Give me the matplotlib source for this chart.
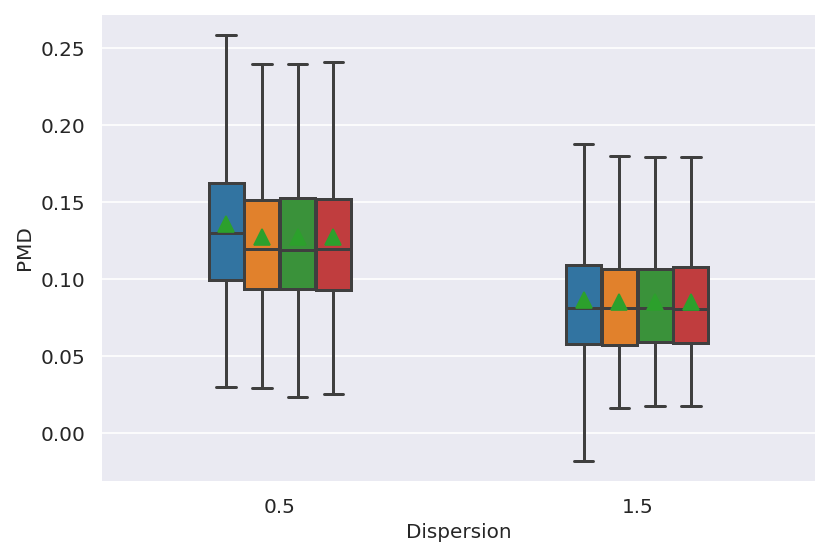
import matplotlib
matplotlib.use("Agg")
import matplotlib.pyplot as plt
import seaborn as sns

sns.set_theme(style="darkgrid")
plt.rcParams['font.family'] = ['DejaVu Sans']

categories = ["0.5", "1.5"]
hue_colors = ["#3274a1", "#e1812c", "#3a923a", "#c03d3e"]

# per category, per hue: whisker low, q1, median, q3, whisker high, mean
whislo = [[0.0299, 0.0292, 0.0234, 0.0255], [-0.0184, 0.0160, 0.0175, 0.0175]]
q1     = [[0.0994, 0.0937, 0.0937, 0.0929], [0.0578, 0.0574, 0.0593, 0.0586]]
med    = [[0.1297, 0.1197, 0.1188, 0.1197], [0.0814, 0.0810, 0.0810, 0.0808]]
q3     = [[0.1628, 0.1513, 0.1528, 0.1524], [0.1095, 0.1065, 0.1065, 0.1076]]
whishi = [[0.2585, 0.2400, 0.2397, 0.2413], [0.1877, 0.1801, 0.1794, 0.1792]]
means  = [[0.1357, 0.1275, 0.1275, 0.1275], [0.0864, 0.0853, 0.0853, 0.0853]]

fig = plt.figure(figsize=(830/120, 558/120), dpi=120)
ax = fig.add_axes([101/830, 1-482/558, (816-101)/830, (482-14)/558])

width = 0.4
nh = len(hue_colors)
each = width / nh
lc = "#3f3f3f"
lw = 1.8
for ci in range(len(categories)):
    for hi in range(nh):
        pos = ci - width/2 + each/2 + hi*each
        st = [dict(whislo=whislo[ci][hi], q1=q1[ci][hi], med=med[ci][hi],
                   q3=q3[ci][hi], whishi=whishi[ci][hi], mean=means[ci][hi], fliers=[])]
        ax.bxp(st, positions=[pos], widths=each*0.98, capwidths=each*0.55,
               patch_artist=True, showmeans=True, showfliers=False,
               boxprops=dict(facecolor=hue_colors[hi], edgecolor=lc, linewidth=lw),
               medianprops=dict(color=lc, linewidth=lw),
               whiskerprops=dict(color=lc, linewidth=lw),
               capprops=dict(color=lc, linewidth=lw),
               meanprops=dict(marker="^", markerfacecolor="#2ca02c",
                              markeredgecolor="#2ca02c", markersize=9.5),
               manage_ticks=False)

ax.set_xlim(-0.5, 1.5)
ax.set_xticks(range(len(categories)))
ax.set_xticklabels(categories)
ax.set_yticks([0.0, 0.05, 0.10, 0.15, 0.20, 0.25])
ax.set_yticklabels(["0.00", "0.05", "0.10", "0.15", "0.20", "0.25"])
ax.set_ylim(-0.0318, 0.2723)
ax.grid(False, axis="x")
ax.tick_params(labelsize=12)
ax.set_xlabel("Dispersion", fontsize=12)
ax.set_ylabel("PMD", fontsize=12)
fig.savefig("out.png", dpi=120)
